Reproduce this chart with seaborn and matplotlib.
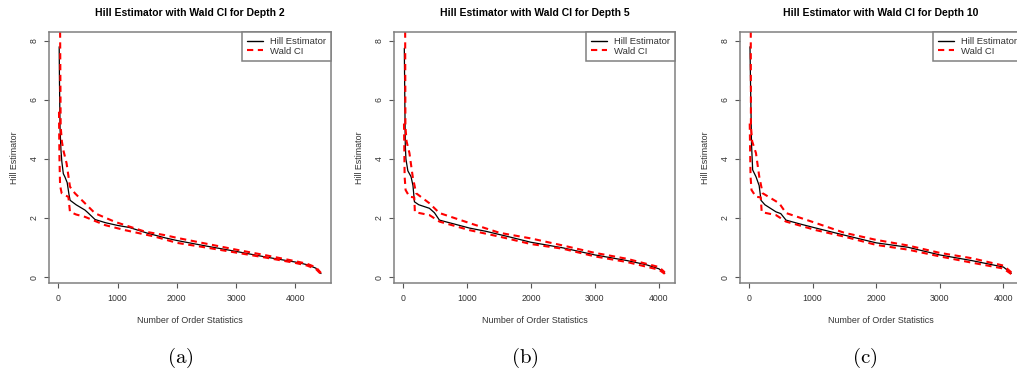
import numpy as np
import pandas as pd
import matplotlib
matplotlib.use("Agg")
import matplotlib.pyplot as plt
from matplotlib.lines import Line2D
import seaborn as sns

# ---------------- data ----------------
titles = ["Hill Estimator with Wald CI for Depth 2",
          "Hill Estimator with Wald CI for Depth 5",
          "Hill Estimator with Wald CI for Depth 10"]
captions = ["(a)", "(b)", "(c)"]
x_ticks = [0, 1000, 2000, 3000, 4000]
y_ticks = [0, 2, 4, 6, 8]

# Panel (a) depth 2
hill_k_a = [15, 20, 30, 45, 60, 85, 110, 150, 180, 200, 300, 450, 500, 620, 800, 1000,
            1200, 1500, 1800, 2000, 2500, 3000, 3500, 4000, 4200, 4350, 4434]
hill_a = [7.8, 6.6, 5.0, 4.3, 3.9, 3.5, 3.4, 3.2, 2.8, 2.6, 2.45, 2.27, 2.18, 1.95, 1.84, 1.75,
          1.68, 1.49, 1.33, 1.24, 1.05, 0.87, 0.68, 0.51, 0.42, 0.30, 0.12]
up_k_a = [25, 30, 40, 60, 85, 140, 197, 280, 450, 620, 957, 1463, 1800, 2000, 2500, 3000,
          3500, 4000, 4200, 4350, 4434]
up_a = [12.0, 8.5, 5.1, 4.6, 4.3, 3.85, 3.06, 2.84, 2.5, 2.16, 1.87, 1.54, 1.42, 1.33, 1.13, 0.93,
        0.74, 0.54, 0.45, 0.33, 0.14]
lo_k_a = [12, 15, 20, 30, 57, 100, 170, 197, 300, 450, 620, 790, 1125, 1632, 2000, 2500, 3000,
          3500, 4000, 4200, 4350, 4434]
lo_a = [5.6, 4.8, 4.0, 3.1, 2.84, 2.78, 2.72, 2.21, 2.12, 2.04, 1.9, 1.76, 1.59, 1.37, 1.16, 1.0, 0.83,
        0.66, 0.48, 0.39, 0.27, 0.10]

# Panel (b) depth 5
hill_k_b = [25, 30, 40, 50, 80, 130, 160, 183, 250, 417, 495, 573, 800, 1042, 1300, 1667, 2000,
            2500, 3000, 3500, 3800, 4000, 4090]
hill_b = [7.75, 6.6, 4.5, 4.0, 3.6, 3.4, 3.1, 2.55, 2.45, 2.33, 2.18, 1.93, 1.8, 1.66, 1.55, 1.36, 1.18,
          0.99, 0.75, 0.56, 0.42, 0.28, 0.13]
up_k_b = [30, 38, 42, 60, 105, 156, 209, 417, 573, 1042, 1511, 2000, 2500, 3000, 3500, 4000, 4090]
up_b = [12.0, 8.5, 5.1, 4.6, 4.2, 3.4, 2.84, 2.5, 2.17, 1.83, 1.5, 1.31, 1.07, 0.82, 0.62, 0.34, 0.16]
lo_k_b = [20, 25, 30, 45, 105, 180, 190, 417, 573, 1042, 1511, 2000, 2500, 3000, 3500, 4000, 4090]
lo_b = [5.2, 4.3, 3.4, 2.95, 2.72, 2.7, 2.2, 2.1, 1.88, 1.59, 1.37, 1.12, 0.96, 0.70, 0.51, 0.25, 0.11]

# Panel (c) depth 10
hill_k_c = [16, 25, 40, 58, 110, 160, 189, 250, 424, 500, 582, 800, 1053, 1500, 2000, 2500, 3000,
            3500, 4000, 4125]
hill_c = [7.8, 6.5, 4.5, 3.63, 3.4, 3.1, 2.6, 2.45, 2.21, 2.15, 1.93, 1.8, 1.66, 1.42, 1.16, 1.01, 0.75,
          0.56, 0.34, 0.13]
up_k_c = [20, 28, 31, 50, 110, 162, 215, 476, 582, 1053, 1500, 2000, 2500, 3000, 3500, 4000, 4125]
up_c = [12.0, 8.5, 5.1, 4.6, 4.2, 3.4, 2.84, 2.5, 2.17, 1.83, 1.5, 1.26, 1.07, 0.82, 0.64, 0.39, 0.16]
lo_k_c = [12, 18, 25, 40, 110, 185, 200, 424, 582, 1053, 1500, 2000, 2500, 3000, 3500, 4000, 4125]
lo_c = [5.2, 4.3, 3.4, 2.95, 2.72, 2.7, 2.2, 2.1, 1.88, 1.59, 1.37, 1.09, 0.93, 0.70, 0.49, 0.29, 0.10]

panels = [
    (hill_k_a, hill_a, up_k_a, up_a, lo_k_a, lo_a),
    (hill_k_b, hill_b, up_k_b, up_b, lo_k_b, lo_b),
    (hill_k_c, hill_c, up_k_c, up_c, lo_k_c, lo_c),
]

# ---------------- style ----------------
sns.set_theme(style="ticks")
plt.rcParams["font.family"] = ["Liberation Sans", "DejaVu Sans"]
plt.rcParams["mathtext.fontset"] = "cm"

W, H = 1017, 376
fig = plt.figure(figsize=(W / 100, H / 100), dpi=100)

# axes boxes in pixels: (left, right, top, bottom)
boxes = [(49, 331, 32, 283), (394, 675, 32, 283), (740, 1022, 32, 283)]
xlims = [(-157, 4603), (-136, 4250), (-141, 4292)]
ylim = (-0.2, 8.3)
cap_x = [180, 525, 865]

spine_col = "#808080"
text_col = "#333333"

for i, (box, xl, pdata) in enumerate(zip(boxes, xlims, panels)):
    l, r, t, b = box
    ax = fig.add_axes([l / W, (H - b) / H, (r - l) / W, (b - t) / H])
    hk, hv, uk, uv, lk, lv = pdata
    df_h = pd.DataFrame({"k": hk, "v": hv})
    df_u = pd.DataFrame({"k": uk, "v": uv})
    df_l = pd.DataFrame({"k": lk, "v": lv})
    sns.lineplot(data=df_h, x="k", y="v", ax=ax, color="black", lw=0.9, sort=True)
    for d in (df_u, df_l):
        sns.lineplot(data=d, x="k", y="v", ax=ax, color="#ff0000", lw=1.5,
                     sort=True, dashes=False, linestyle=(0, (3.0, 2.2)))
    ax.set_xlim(*xl)
    ax.set_ylim(*ylim)
    ax.set_xticks(x_ticks)
    ax.set_yticks(y_ticks)
    ax.set_xticklabels([str(v) for v in x_ticks], fontsize=6.3, color=text_col)
    ax.set_yticklabels([str(v) for v in y_ticks], fontsize=6.3, color=text_col,
                       rotation=90, va="center")
    ax.tick_params(axis="both", length=3.6, width=0.8, color="#555555", pad=4)
    for s in ax.spines.values():
        s.set_color(spine_col)
        s.set_linewidth(1.1)
    ax.set_xlabel("Number of Order Statistics", fontsize=6.4, color=text_col, labelpad=9.5)
    ax.set_ylabel("Hill Estimator", fontsize=6.4, color=text_col, labelpad=7.8)
    ax.set_title(titles[i], fontsize=7.5, fontweight="bold", pad=11.5, color="black")

    handles = [Line2D([], [], color="black", lw=1.0),
               Line2D([], [], color="#ff0000", lw=1.5, linestyle=(0, (3.0, 2.2)))]
    leg = ax.legend(handles, ["Hill Estimator", "Wald CI"], loc="upper right",
                    bbox_to_anchor=(1.0, 1.0), borderaxespad=0, fontsize=6.8,
                    fancybox=False, framealpha=1, edgecolor=spine_col,
                    handlelength=1.7, handletextpad=0.7, labelspacing=0.05,
                    borderpad=0.55)
    leg.get_frame().set_linewidth(1.1)
    for txt in leg.get_texts():
        txt.set_color(text_col)

    fig.text(cap_x[i] / W, 1 - 358 / H, r"$\mathrm{" + captions[i] + "}$",
             fontsize=15, ha="center", va="center", color="black")

fig.savefig("out.png", dpi=100)
